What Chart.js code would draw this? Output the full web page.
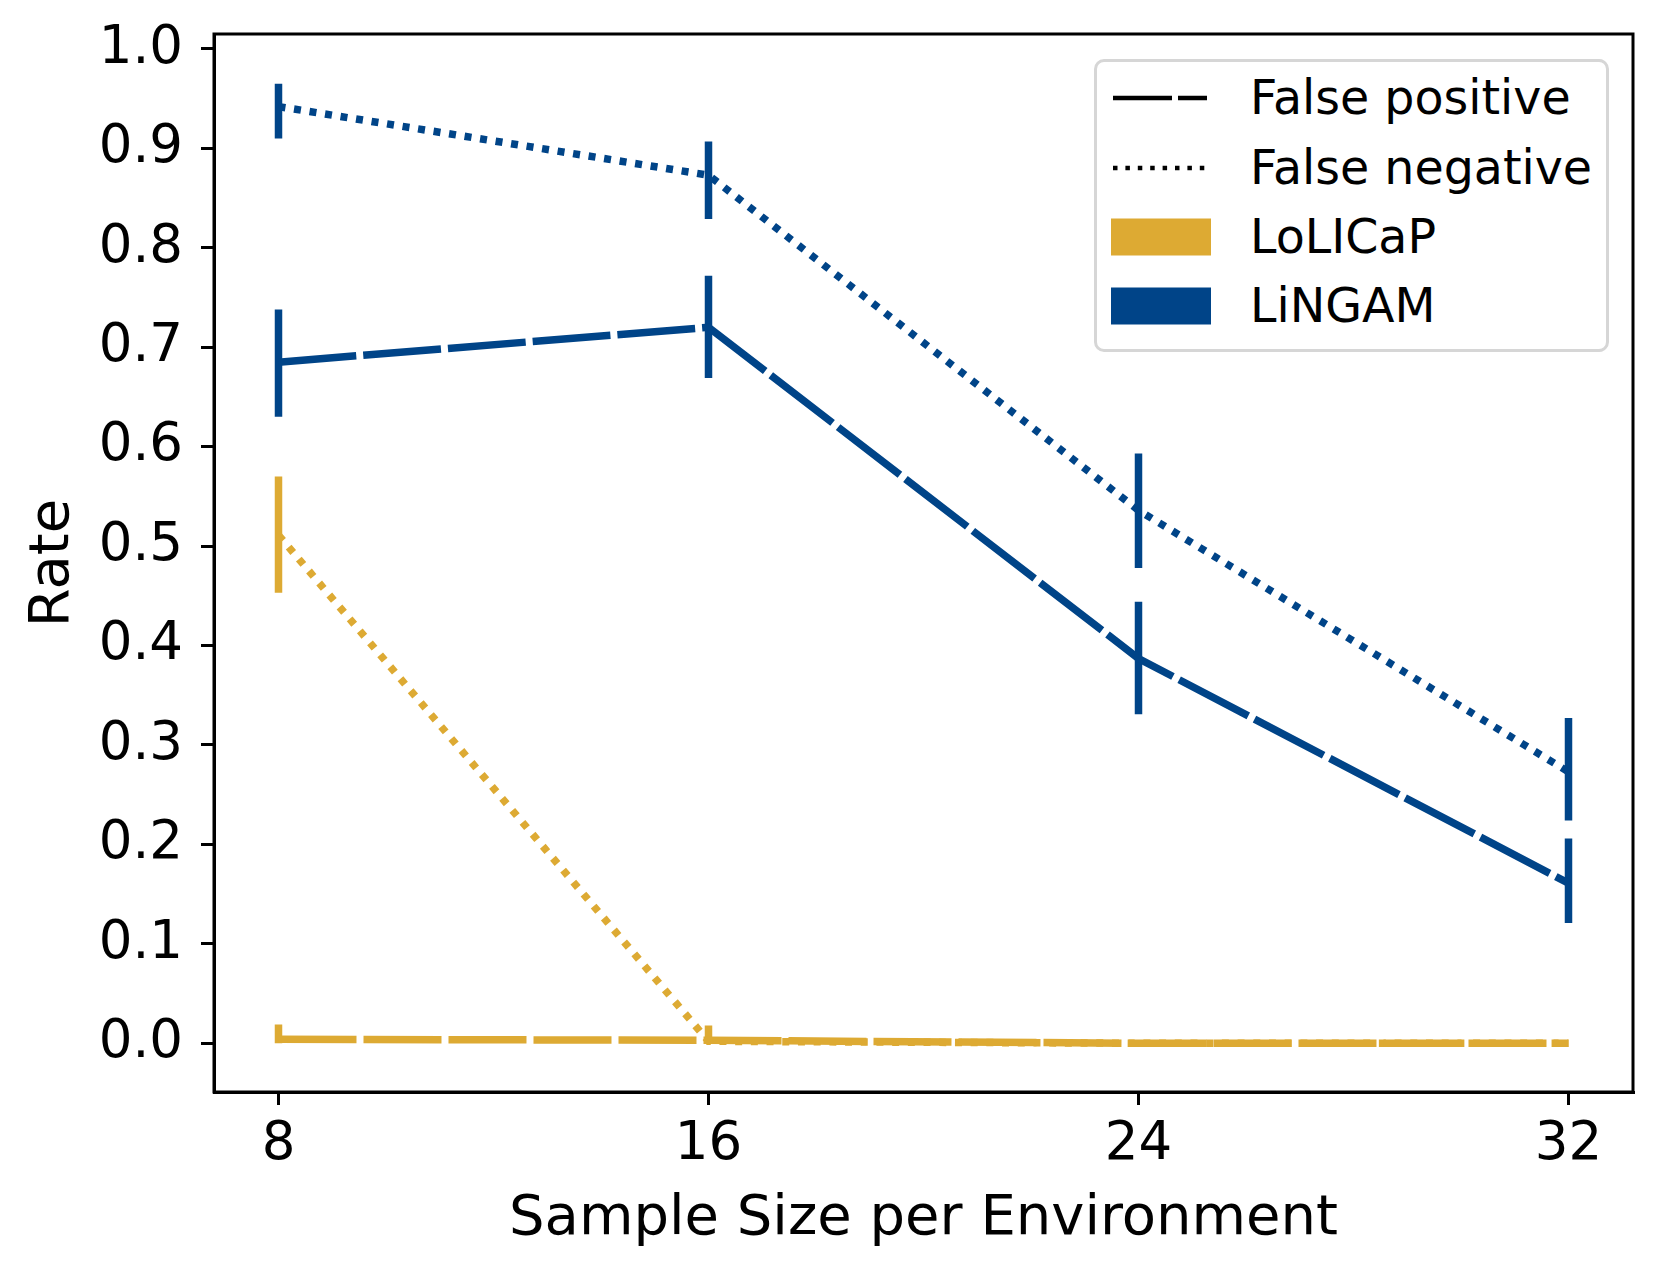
<!DOCTYPE html>
<html>
<head>
<meta charset="utf-8">
<script src="https://cdn.jsdelivr.net/npm/chart.js@4.4.1/dist/chart.umd.min.js"></script>
<style>
  body { margin: 0; background: #fff; }
  #wrap { position: relative; width: 1662px; height: 1272px; }
  #legend {
    position: absolute; left: 1094px; top: 59px; width: 509px; height: 287px;
    border: 3px solid #d6d6d6; border-radius: 10px; background: #fff;
    font-family: "DejaVu Sans", sans-serif; font-size: 47.5px; color: #000;
  }
  .row { position: absolute; left: 0; height: 60px; display: flex; align-items: center; white-space: nowrap; }
  .row svg { margin-left: 14px; width: 100px; height: 40px; flex: none; }
  .row span { margin-left: 39px; line-height: 60px; }
</style>
</head>
<body>
<div id="wrap">
  <canvas id="chart" width="1662" height="1272"></canvas>
  <div id="legend"></div>
</div>
<script>
// Sample sizes on the x axis
var sampleSizes = [8, 16, 24, 32];

// LoLICaP
var lolicapFP = [0.004, 0.003, 0.0, 0.0];
var lolicapFPLow = [0.0, 0.0, 0.0, 0.0];
var lolicapFPHigh = [0.019, 0.018, 0.0, 0.0];
var lolicapFN = [0.511, 0.002, 0.0, 0.0];
var lolicapFNLow = [0.453, 0.0, 0.0, 0.0];
var lolicapFNHigh = [0.570, 0.005, 0.0, 0.0];

// LiNGAM
var lingamFP = [0.685, 0.720, 0.387, 0.161];
var lingamFPLow = [0.630, 0.669, 0.331, 0.121];
var lingamFPHigh = [0.738, 0.772, 0.444, 0.206];
var lingamFN = [0.942, 0.873, 0.536, 0.273];
var lingamFNLow = [0.910, 0.829, 0.478, 0.224];
var lingamFNHigh = [0.965, 0.907, 0.593, 0.327];

var yTicks = [0.0, 0.1, 0.2, 0.3, 0.4, 0.5, 0.6, 0.7, 0.8, 0.9, 1.0];

var GOLD = '#DDAA33';
var BLUE = '#004488';
var LW = 7.5;
var DASHED = [78, 7];
var DOTTED = [7, 8.7];
var FONT = "'DejaVu Sans', sans-serif";

function points(vals) {
  return sampleSizes.map(function (x, i) { return {x: x, y: vals[i]}; });
}

// vertical error bars as one broken line: lo -> hi, then a gap
function bars(lo, hi) {
  var out = [];
  sampleSizes.forEach(function (x, i) {
    out.push({x: x, y: lo[i]}, {x: x, y: hi[i]}, {x: x, y: null});
  });
  return out;
}

function lineSet(label, vals, color, dash, order) {
  return {label: label, data: points(vals), borderColor: color, borderWidth: LW,
    borderDash: dash, pointRadius: 0, fill: false, tension: 0, order: order};
}

function barSet(lo, hi, color, order) {
  return {label: '', data: bars(lo, hi), borderColor: color, borderWidth: LW,
    pointRadius: 0, fill: false, spanGaps: false, order: order};
}

// matplotlib-like full frame round the plot
var frame = {
  id: 'frame',
  afterDraw: function (chart) {
    var a = chart.chartArea, ctx = chart.ctx;
    ctx.save();
    ctx.strokeStyle = '#000';
    ctx.lineWidth = 3;
    ctx.strokeRect(a.left, a.top, a.right - a.left, a.bottom - a.top);
    ctx.restore();
  }
};

new Chart(document.getElementById('chart'), {
  type: 'line',
  data: {
    datasets: [
      barSet(lolicapFPLow, lolicapFPHigh, GOLD, 2),
      lineSet('LoLICaP FP', lolicapFP, GOLD, DASHED, 1),
      barSet(lolicapFNLow, lolicapFNHigh, GOLD, 4),
      lineSet('LoLICaP FN', lolicapFN, GOLD, DOTTED, 3),
      barSet(lingamFPLow, lingamFPHigh, BLUE, 6),
      lineSet('LiNGAM FP', lingamFP, BLUE, DASHED, 5),
      barSet(lingamFNLow, lingamFNHigh, BLUE, 8),
      lineSet('LiNGAM FN', lingamFN, BLUE, DOTTED, 7)
    ]
  },
  options: {
    responsive: false,
    animation: false,
    devicePixelRatio: 1,
    layout: {padding: {top: 34, right: 29, bottom: 0, left: 0}},
    plugins: {legend: {display: false}, tooltip: {enabled: false}},
    scales: {
      x: {
        type: 'linear', min: 6.8, max: 33.2,
        grid: {display: true, drawOnChartArea: false, drawTicks: true, tickLength: 13, lineWidth: 3, color: '#000'},
        border: {display: true, color: '#000', width: 3},
        ticks: {
          stepSize: 8, includeBounds: false, autoSkip: false, maxRotation: 0, padding: 8, color: '#000',
          font: {family: FONT, size: 53},
          callback: function (v) { return sampleSizes.indexOf(v) >= 0 ? String(v) : ''; }
        },
        title: {display: true, text: 'Sample Size per Environment', color: '#000',
          font: {family: FONT, size: 56}, padding: {top: 0, bottom: 19}},
        afterFit: function (s) { s.height = 180; s.paddingLeft = 0; s.paddingRight = 0; }
      },
      y: {
        min: -0.049, max: 1.015,
        grid: {display: true, drawOnChartArea: false, drawTicks: true, tickLength: 13, lineWidth: 3, color: '#000'},
        border: {display: true, color: '#000', width: 3},
        ticks: {
          stepSize: 0.1, includeBounds: false, autoSkip: false, padding: 18, color: '#000',
          font: {family: FONT, size: 53},
          callback: function (v) {
            var hit = yTicks.filter(function (t) { return Math.abs(t - v) < 1e-6; });
            return hit.length ? hit[0].toFixed(1) : '';
          }
        },
        title: {display: true, text: 'Rate', color: '#000',
          font: {family: FONT, size: 56}, padding: {top: 20, bottom: 0}},
        afterFit: function (s) { s.width = 214; s.paddingTop = 0; s.paddingBottom = 0; }
      }
    }
  },
  plugins: [frame]
});

// legend: line styles, then method colours
var legendItems = [
  {kind: 'line', dash: '59,6', text: 'False positive'},
  {kind: 'line', dash: '4.5,7.9', text: 'False negative'},
  {kind: 'patch', color: GOLD, text: 'LoLICaP'},
  {kind: 'patch', color: BLUE, text: 'LiNGAM'}
];
var rowCentres = [36, 106, 175, 244];
var legend = document.getElementById('legend');
legendItems.forEach(function (item, i) {
  var row = document.createElement('div');
  row.className = 'row';
  row.style.top = (rowCentres[i] - 30) + 'px';
  var mark;
  if (item.kind === 'line') {
    mark = '<svg viewBox="0 0 100 40"><line x1="2" y1="20" x2="96" y2="20" stroke="#000" stroke-width="4.5" stroke-dasharray="' + item.dash + '"/></svg>';
  } else {
    mark = '<svg viewBox="0 0 100 40"><rect x="0" y="1.5" width="100" height="37" fill="' + item.color + '"/></svg>';
  }
  row.innerHTML = mark + '<span>' + item.text + '</span>';
  legend.appendChild(row);
});
</script>
</body>
</html>
